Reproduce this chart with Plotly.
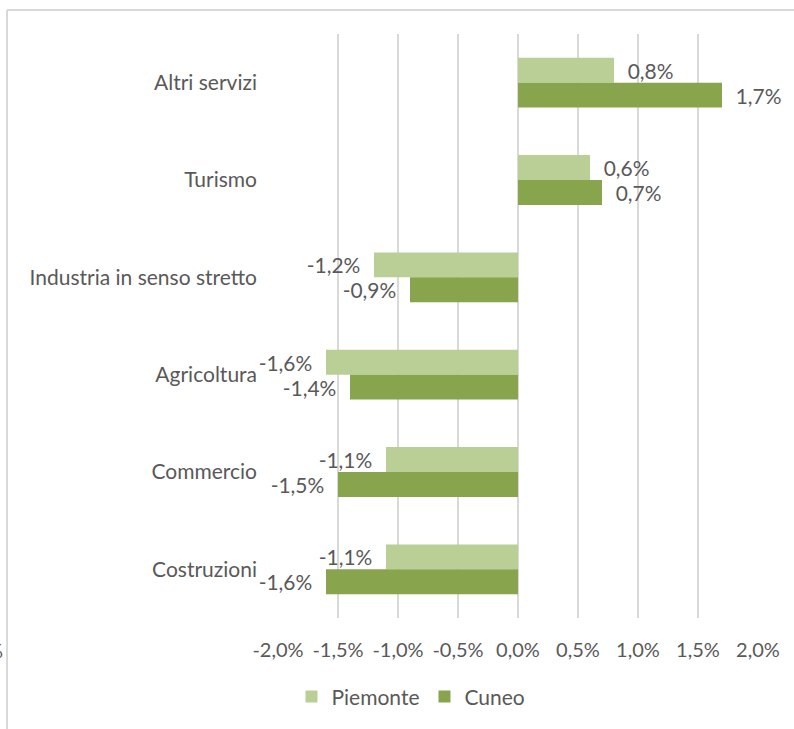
import plotly.graph_objects as go

# Variazione percentuale per settore
categories = ["Altri servizi", "Turismo", "Industria in senso stretto",
              "Agricoltura", "Commercio", "Costruzioni"]
piemonte = [0.8, 0.6, -1.2, -1.6, -1.1, -1.1]
cuneo = [1.7, 0.7, -0.9, -1.4, -1.5, -1.6]
tick_values = [-2.0, -1.5, -1.0, -0.5, 0.0, 0.5, 1.0, 1.5, 2.0]

FONT = "Lato"
TXT = "#595959"
GRID = "#d9d9d9"
FS = 21

# plot-area geometry in pixels
W, H = 794, 729
L, R, T, B = 278, 36, 34, 109
pw, ph = W - L - R, H - T - B


def px_x(p):
    return (p - L) / pw


def px_y(p):
    return (H - B - p) / ph


def fmt(v):
    return f"{v:.1f}%".replace(".", ",")


def bar_label(v):
    # keep a little air between the bar end and its value
    pad = "\u00a0\u00a0"
    return pad + fmt(v) if v >= 0 else fmt(v) + pad


fig = go.Figure()
fig.add_trace(go.Bar(
    name="Piemonte", y=categories, x=piemonte, orientation="h",
    marker=dict(color="#b9cf96", line=dict(width=0)),
    text=[bar_label(v) for v in piemonte], textposition="outside",
    textfont=dict(family=FONT, size=FS, color=TXT), cliponaxis=False,
))
fig.add_trace(go.Bar(
    name="Cuneo", y=categories, x=cuneo, orientation="h",
    marker=dict(color="#88a54e", line=dict(width=0)),
    text=[bar_label(v) for v in cuneo], textposition="outside",
    textfont=dict(family=FONT, size=FS, color=TXT), cliponaxis=False,
))

# outer chart frame (top and left edges)
frame = dict(type="line", xref="paper", yref="paper",
             line=dict(color=GRID, width=2), layer="below")
fig.add_shape(**frame, x0=px_x(7), x1=px_x(W + 5), y0=px_y(10), y1=px_y(10))
fig.add_shape(**frame, x0=px_x(7), x1=px_x(7), y0=px_y(10), y1=px_y(H + 5))

fig.add_annotation(text="%", xref="paper", yref="paper", x=px_x(5), y=px_y(652),
                   xanchor="right", yanchor="middle", showarrow=False,
                   font=dict(family=FONT, size=20, color=TXT))

fig.update_layout(
    width=W, height=H,
    margin=dict(l=L, r=R, t=T, b=B, pad=0),
    paper_bgcolor="white", plot_bgcolor="white",
    barmode="group", bargap=0.488, bargroupgap=0,
    separators=",.",
    font=dict(family=FONT, size=FS, color=TXT),
    showlegend=True,
    legend=dict(orientation="h", x=px_x(411), y=px_y(699),
                xanchor="center", yanchor="middle",
                font=dict(family=FONT, size=FS, color=TXT),
                traceorder="normal"),
    xaxis=dict(range=[-2, 2], tickvals=tick_values,
               ticktext=[fmt(v) for v in tick_values],
               showgrid=True, gridcolor=GRID, gridwidth=2,
               zeroline=False, showline=False, ticks="",
               ticklabelstandoff=18,
               tickfont=dict(family=FONT, size=20, color=TXT)),
    yaxis=dict(autorange="reversed", showgrid=False, zeroline=False,
               showline=False, ticks="", ticklabelstandoff=20,
               tickfont=dict(family=FONT, size=FS, color=TXT)),
)

fig.write_html("out.html")
